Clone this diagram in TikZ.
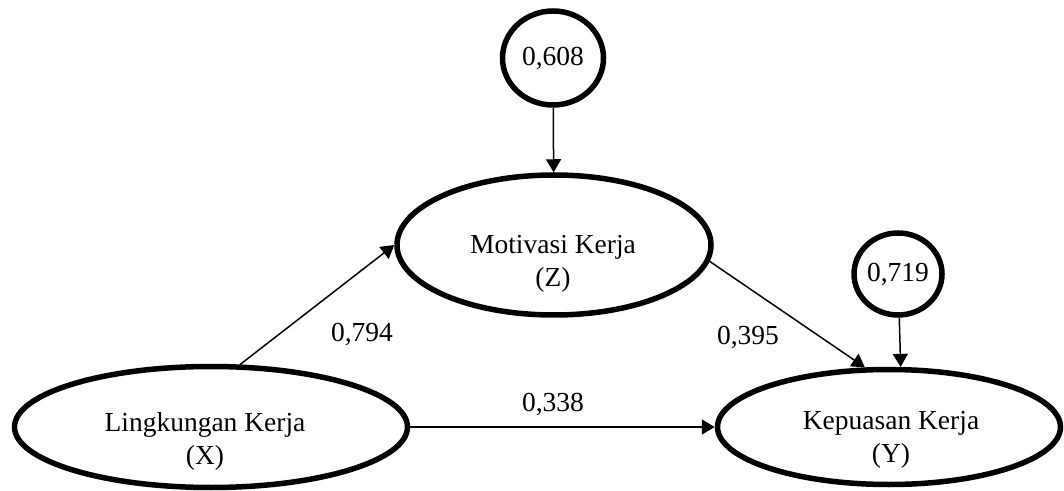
\documentclass[tikz,border=0pt]{standalone}
\usepackage{fontspec}
\setmainfont{Liberation Serif}
\usetikzlibrary{arrows.meta,shapes.geometric}

\begin{document}
\begin{tikzpicture}[x=0.5pt,y=-0.5pt,
    var/.style={ellipse,draw,line width=2.75pt,inner sep=0pt},
    lbl/.style={align=center,inner sep=0pt,font=\fontsize{13.75}{16.5}\selectfont},
    err/.style={ellipse,draw,line width=2.75pt,inner sep=0pt,
        font=\fontsize{13.75}{16.5}\selectfont},
    arr/.style={line width=0.75pt,-{Triangle[length=6.5pt,width=7.5pt]}},
    coef/.style={font=\fontsize{13.75}{16.5}\selectfont}]
    \useasboundingbox (0,0) rectangle (1064,491);
    \node[var,minimum width=196.5pt,minimum height=60.5pt] (X) at (211,427) {};
    \node[var,minimum width=157pt,minimum height=70pt] (Z) at (554,245) {};
    \node[var,minimum width=171.5pt,minimum height=57.5pt] (Y) at (889,427) {};
    \node[lbl] (tX) at (205,441) {Lingkungan Kerja\\(X)};
    \node[lbl] (tZ) at (553,264) {Motivasi Kerja\\(Z)};
    \node[lbl] (tY) at (891,440) {Kepuasan Kerja\\(Y)};
    \node[err,minimum width=50.5pt,minimum height=47pt] (E1) at (553,58) {0,608};
    \node[err,minimum width=44pt,minimum height=41pt] (E2) at (898,274) {0,719};
    %\draw[red] (0,0) rectangle (1064,491);
    \draw[arr] (E1) -- (Z);
    \draw[arr] (E2) -- (Y.79);
    \draw[arr] (X.65) -- (Z.west);
    \draw[arr] (Z.-6) -- (Y.112);
    \draw[arr] (X.east) -- (Y.west);
    \node[coef] (pXZ) at (362,334) {0,794};
    \node[coef] (pXY) at (553,404) {0,338};
    \node[coef] (pZY) at (748,337) {0,395};
\end{tikzpicture}
\end{document}
